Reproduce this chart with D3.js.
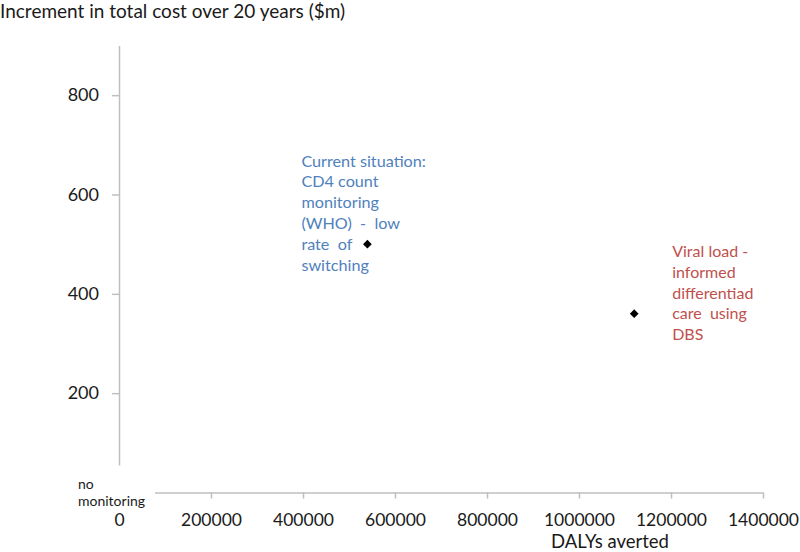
<!DOCTYPE html>
<html>
<head>
<meta charset="utf-8">
<script src="https://cdn.jsdelivr.net/npm/d3@7"></script>
<style>
  body { margin: 0; background: #fff; }
  svg text { font-family: Lato, "Open Sans", sans-serif; white-space: pre; }
</style>
</head>
<body>
<div class="mainChart"></div>
<script>
// data
const scenarios = ["no monitoring", "CD4 count monitoring (WHO)", "Viral load informed care using DBS"];
const dalysAverted = [0, 540000, 1120000];
const costIncrement = [0, 500, 360];
const labelLines = [
  ["no", "monitoring"],
  ["Current situation:", "CD4 count", "monitoring", "(WHO)  -  low", "rate  of", "switching"],
  ["Viral load -", "informed", "differentiad", "care  using", "DBS"]
];
const labelColors = ["#1a1a1a", "#4f81bd", "#c0504d"];
const xTicks = [0, 200000, 400000, 600000, 800000, 1000000, 1200000, 1400000];
const yTicks = [200, 400, 600, 800];

const width = 800, height = 552;
const axisColor = "#bfbfbf";

let x = d3.scaleLinear().domain([0, 1400000]).range([119, 763]);
let y = d3.scaleLinear().domain([0, 900]).range([492.5, 45.5]);

let svg = d3.select('.mainChart').append('svg')
  .attr('width', width)
  .attr('height', height);

// y axis
let yAxis = d3.axisLeft(y).tickValues(yTicks).tickSize(7).tickPadding(13).tickSizeOuter(0);
let gy = svg.append('g').attr('transform', 'translate(119,0)').call(yAxis);
gy.select('.domain').attr('stroke', axisColor).attr('stroke-width', 1.5);
gy.selectAll('.tick line').attr('stroke', axisColor).attr('stroke-width', 1.5);
gy.selectAll('.tick text').attr('font-size', 18).attr('fill', '#1a1a1a')
  .attr('font-family', 'Lato, sans-serif');

// x axis
let xAxis = d3.axisBottom(x).tickValues(xTicks).tickSize(6).tickPadding(15)
  .tickFormat(d3.format('d')).tickSizeOuter(0);
let gx = svg.append('g').attr('transform', 'translate(0,492.5)').call(xAxis);
gx.select('.domain').attr('stroke', axisColor).attr('stroke-width', 1.5);
gx.selectAll('.tick line').attr('stroke', axisColor).attr('stroke-width', 1.5);
gx.selectAll('.tick text').attr('font-size', 17.5).attr('fill', '#1a1a1a')
  .attr('font-family', 'Lato, sans-serif');

// axis titles
svg.append('text')
  .attr('x', 0).attr('y', 18)
  .attr('font-size', 19).attr('fill', '#1a1a1a')
  .text('Increment in total cost over 20 years ($m)');
svg.append('text')
  .attr('x', 610).attr('y', 548)
  .attr('text-anchor', 'middle')
  .attr('font-size', 18.5).attr('fill', '#1a1a1a')
  .text('DALYs averted');

// markers
svg.selectAll('path.pt')
  .data(scenarios)
  .enter().append('path')
  .attr('class', 'pt')
  .attr('d', d3.symbol().type(d3.symbolSquare).size(38))
  .attr('transform', (d, i) => 'translate(' + x(dalysAverted[i]) + ',' + y(costIncrement[i]) + ') rotate(45)')
  .attr('fill', '#000');

// data labels: offset from the point, which line sits level with it
const labelDx = [-41, -66, 38];
const labelAnchorLine = [0.5, 4, 3];
const labelSize = [14, 16.2, 16];
const lineGap = [17.5, 20.8, 20.7];

// white box behind the "no monitoring" label
svg.append('rect')
  .attr('x', x(0) - 46).attr('y', y(0) - 27)
  .attr('width', 82).attr('height', 45)
  .attr('fill', '#fff');

scenarios.forEach(function(s, i) {
  let t = svg.append('text')
    .attr('font-size', labelSize[i])
    .attr('fill', labelColors[i]);
  labelLines[i].forEach(function(line, j) {
    t.append('tspan')
      .attr('x', x(dalysAverted[i]) + labelDx[i])
      .attr('y', y(costIncrement[i]) + (j - labelAnchorLine[i]) * lineGap[i])
      .attr('dy', '0.35em')
      .text(line);
  });
});
</script>
</body>
</html>
